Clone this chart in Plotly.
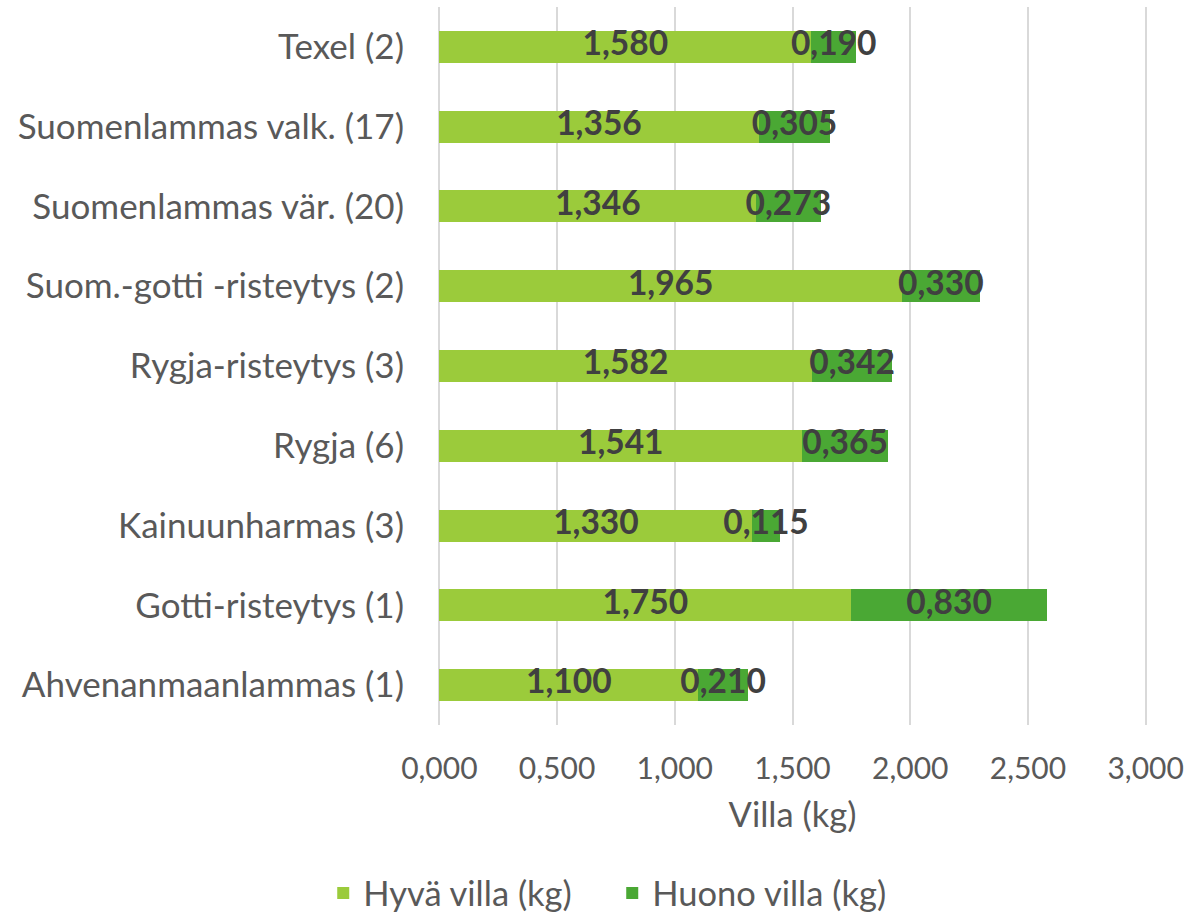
import plotly.graph_objects as go

categories = [
    "Ahvenanmaanlammas (1)",
    "Gotti-risteytys (1)",
    "Kainuunharmas (3)",
    "Rygja (6)",
    "Rygja-risteytys (3)",
    "Suom.-gotti -risteytys (2)",
    "Suomenlammas vär. (20)",
    "Suomenlammas valk. (17)",
    "Texel (2)",
]
good_wool = [1.100, 1.750, 1.330, 1.541, 1.582, 1.965, 1.346, 1.356, 1.580]
bad_wool = [0.210, 0.830, 0.115, 0.365, 0.342, 0.330, 0.273, 0.305, 0.190]
x_ticks = [0, 0.5, 1.0, 1.5, 2.0, 2.5, 3.0]

FONT = "Lato"
GREY = "#595959"
LABEL = "#404040"
C_GOOD = "#9BCB3B"
C_BAD = "#4AA834"

fig = go.Figure()
fig.add_trace(go.Bar(
    y=categories, x=good_wool, orientation="h", name="Hyvä villa (kg)",
    marker=dict(color=C_GOOD, line=dict(width=0)),
))
fig.add_trace(go.Bar(
    y=categories, x=bad_wool, orientation="h", name="Huono villa (kg)",
    marker=dict(color=C_BAD, line=dict(width=0)),
))

# data labels centred in each segment
good_mid = [g / 2 for g in good_wool]
bad_mid = [g + b / 2 for g, b in zip(good_wool, bad_wool)]
fig.add_trace(go.Scatter(
    y=categories + categories,
    x=good_mid + bad_mid,
    text=[f"{v:.3f}".replace(".", ",") for v in good_wool + bad_wool],
    mode="text", textposition="middle center",
    textfont=dict(family=FONT, size=33.5, color=LABEL, weight="bold"),
    showlegend=False, hoverinfo="skip", cliponaxis=False,
))

fig.update_layout(
    width=1191, height=913,
    barmode="stack", bargap=0.6,
    separators=",.",
    plot_bgcolor="white", paper_bgcolor="white",
    margin=dict(l=437, r=40, t=7, b=188),
    font=dict(family=FONT, color=GREY),
    legend=dict(
        orientation="h", xref="container", yref="container",
        x=0.2714, y=0.0219, xanchor="left", yanchor="middle",
        traceorder="normal",
        font=dict(family=FONT, size=34.5, color=GREY),
        itemwidth=30, entrywidth=244,
    ),
)
fig.update_xaxes(
    range=[-0.01, 3.01], tickvals=x_ticks, tickformat=".3f",
    showgrid=True, gridcolor="#D9D9D9", gridwidth=2,
    zeroline=False, showline=False,
    tickfont=dict(family=FONT, size=30, color=GREY),
    ticklabelstandoff=23, ticklabeloverflow="allow",
    title=dict(text="Villa (kg)", font=dict(family=FONT, size=34.5, color=GREY), standoff=18),
)
fig.update_yaxes(
    categoryorder="array", categoryarray=categories,
    showgrid=False, zeroline=False, showline=False,
    tickfont=dict(family=FONT, size=35, color=GREY),
    ticklabelstandoff=32,
)

fig.write_html(
    "out.html",
    config={"displayModeBar": False},
    post_script="document.body.style.margin='0';document.body.style.overflow='hidden';",
)
